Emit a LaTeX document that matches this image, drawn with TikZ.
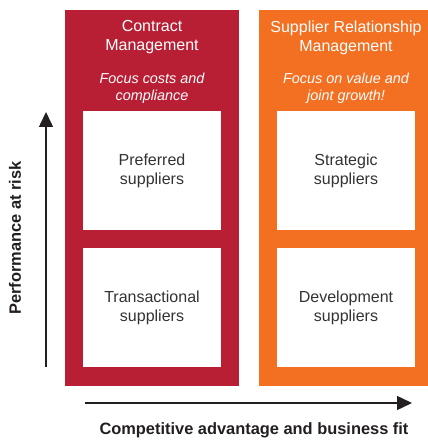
\documentclass[tikz,border=0pt]{standalone}
\usepackage{fontspec}
\setmainfont{Liberation Sans}
\usepackage{xcolor}
\usetikzlibrary{arrows.meta, positioning}

\definecolor{cmred}{RGB}{185,31,52}
\definecolor{srmorange}{RGB}{243,111,33}
\definecolor{axisgray}{RGB}{35,31,32}
\definecolor{textgray}{RGB}{51,51,51}

\begin{document}
\begin{tikzpicture}[x=1pt, y=1pt,
    panel/.style={rectangle, inner sep=0pt, minimum width=174pt, minimum height=376pt},
    cell/.style={rectangle, fill=white, inner sep=0pt, minimum width=138pt, minimum height=119pt,
        align=center, text=textgray, font=\fontsize{16}{19}\selectfont},
    heading/.style={align=center, text=white, font=\fontsize{16}{19}\selectfont},
    focus/.style={align=center, text=white, font=\fontsize{14.4}{17}\selectfont\itshape},
    axis/.style={line width=1.5pt, draw=axisgray, -{Triangle[length=15pt, width=14pt]}},
    axislabel/.style={text=axisgray, font=\fontsize{16.4}{19}\selectfont\bfseries}]

\useasboundingbox (0,0) rectangle (428,442);

% Contract management column
\node[panel, fill=cmred] (cmpanel) at (152,244) {};
\node[heading] (cmtitle) at (152,404.5) {Contract\\Management};
\node[focus] (cmfocus) at (152,353.5) {Focus costs and\\compliance};
\node[cell] (preferred) at (152,271.5) {Preferred\\suppliers};
\node[cell] (transactional) at (152,134.5) {Transactional\\suppliers};

% Supplier relationship management column (cut at the right edge)
\fill[srmorange] (259,56) rectangle (427.5,432);
\node[heading] (srmtitle) at (346,404.5) {Supplier Relationship\\Management};
\node[focus] (srmfocus) at (346,353.5) {Focus on value and\\joint growth!};
\node[cell] (strategic) at (346,271.5) {Strategic\\suppliers};
\node[cell] (development) at (346,134.5) {Development\\suppliers};

% Axes
\coordinate (riskfrom) at (46,75);
\coordinate (riskto) at (46,330);
\coordinate (fitfrom) at (85,39);
\coordinate (fitto) at (412,39);
\draw[axis] (riskfrom) -- (riskto);
\draw[axis] (fitfrom) -- (fitto);
\node[axislabel, rotate=90] (risklabel) at (15,204) {Performance at risk};
\node[axislabel] (fitlabel) at (254,12) {Competitive advantage and business fit};

\end{tikzpicture}
\end{document}
